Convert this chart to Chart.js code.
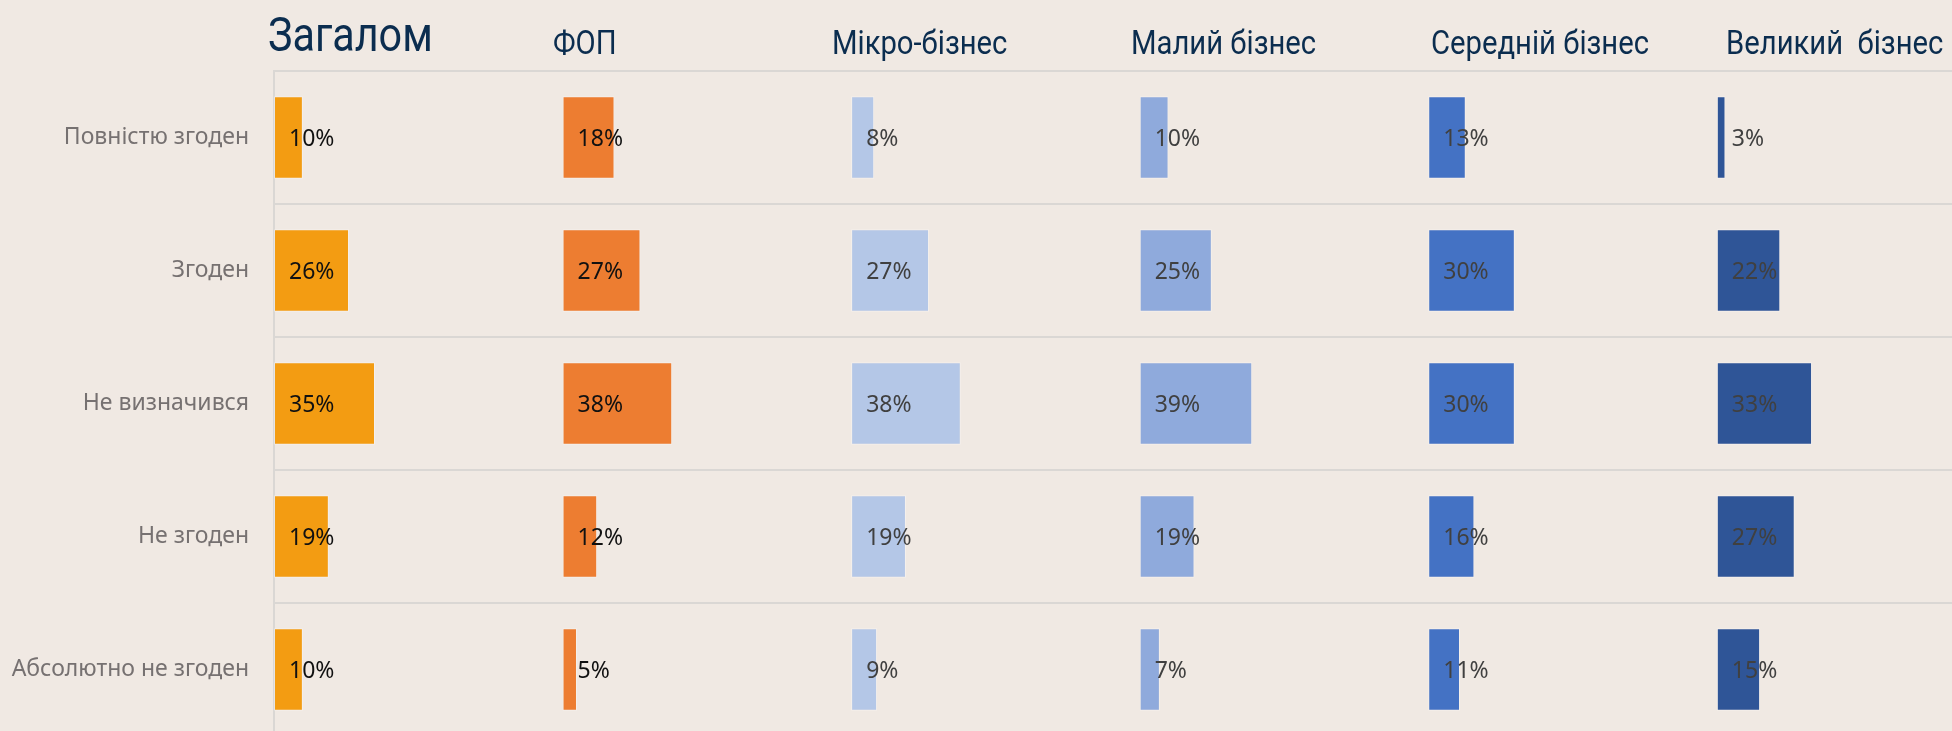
<!DOCTYPE html>
<html lang="uk">
<head>
<meta charset="utf-8">
<title>Загалом / ФОП / бізнес</title>
<script src="https://cdn.jsdelivr.net/npm/chart.js@4.4.1/dist/chart.umd.min.js"></script>
<style>
    html, body { margin: 0; padding: 0; overflow: hidden; background: #F0E9E3; }
    #wrap { position: relative; width: 1952px; height: 740px; }
</style>
</head>
<body>
<div id="wrap"><canvas id="answers-chart"></canvas></div>
<script>
// Categories (rows) and groups (panels)
const categories = ['Повністю згоден', 'Згоден', 'Не визначився', 'Не згоден', 'Абсолютно не згоден'];
const groups = ['Загалом', 'ФОП', 'Мікро-бізнес', 'Малий бізнес', 'Середній бізнес', 'Великий  бізнес'];

// Values, % per row
const totalValues = [10, 26, 35, 19, 10];
const fopValues = [18, 27, 38, 12, 5];
const microValues = [8, 27, 38, 19, 9];
const smallValues = [10, 25, 39, 19, 7];
const mediumValues = [13, 30, 30, 16, 11];
const largeValues = [3, 22, 33, 27, 15];

const groupValues = [totalValues, fopValues, microValues, smallValues, mediumValues, largeValues];

// Styling
const barColors = ['#F39C12', '#ED7D31', '#B4C7E7', '#8FAADC', '#4472C4', '#2F5597'];
const labelColors = ['#111111', '#111111', '#404040', '#404040', '#404040', '#404040'];
const panelWidth = 100;
const headerLeft = [268, 553, 832, 1131, 1431, 1726];
const headerBase = [51, 54, 54, 54, 54, 54];
const headerSize = [48, 34, 34, 34, 34, 34];

document.addEventListener('DOMContentLoaded', function() {
    drawChart();
});

// value labels at the start of every bar
const valueLabels = {
    id: 'valueLabels',
    afterDatasetsDraw(chart) {
        const ctx = chart.ctx;
        ctx.save();
        ctx.font = '23px "Noto Sans", sans-serif';
        ctx.textAlign = 'left';
        ctx.textBaseline = 'middle';
        chart.data.datasets.forEach((ds, i) => {
            const meta = chart.getDatasetMeta(i);
            ctx.fillStyle = labelColors[i];
            meta.data.forEach((bar, j) => {
                const left = Math.min(bar.x, bar.base);
                ctx.fillText(groupValues[i][j] + '%', left + 15, bar.y + 2);
            });
        });
        ctx.restore();
    }
};

// panel headers, condensed
const panelHeaders = {
    id: 'panelHeaders',
    afterDraw(chart) {
        const ctx = chart.ctx;
        ctx.save();
        ctx.fillStyle = '#0B2D4F';
        ctx.textBaseline = 'alphabetic';
        groups.forEach((name, i) => {
            ctx.save();
            ctx.translate(headerLeft[i], headerBase[i]);
            ctx.scale(0.86, 1);
            ctx.font = headerSize[i] + 'px Roboto, sans-serif';
            ctx.fillText(name, 0, 0);
            ctx.restore();
        });
        ctx.restore();
    }
};

function drawChart() {
    const ctx = document.getElementById('answers-chart').getContext('2d');

    const datasets = groupValues.map((values, i) => ({
        label: groups[i],
        data: values.map(v => [i * panelWidth, i * panelWidth + v]),
        backgroundColor: barColors[i],
        borderColor: 'rgba(255, 255, 255, 0.35)',
        borderWidth: 1,
        borderSkipped: false,
        grouped: false,
        categoryPercentage: 1,
        barPercentage: 0.62
    }));

    new Chart(ctx, {
        type: 'bar',
        data: {
            labels: categories,
            datasets: datasets
        },
        options: {
            indexAxis: 'y',
            responsive: true,
            maintainAspectRatio: false,
            animation: false,
            layout: {
                padding: { top: 71, bottom: 4, left: 0, right: 0 }
            },
            plugins: {
                legend: { display: false },
                tooltip: { enabled: false }
            },
            scales: {
                x: {
                    display: false,
                    min: 0,
                    max: 581.5
                },
                y: {
                    afterFit: scale => {
                        scale.width = 274;
                        // labels sit in the middle of the rows, no extra room needed
                        scale.paddingTop = 0;
                        scale.paddingBottom = 0;
                    },
                    grid: {
                        color: '#DAD7D4',
                        lineWidth: 2,
                        drawTicks: false
                    },
                    border: {
                        display: true,
                        color: '#DAD7D4',
                        width: 2
                    },
                    ticks: {
                        padding: 25,
                        color: '#767171',
                        font: { family: '"Noto Sans", sans-serif', size: 23 }
                    }
                }
            }
        },
        plugins: [valueLabels, panelHeaders]
    });
}
</script>
</body>
</html>
